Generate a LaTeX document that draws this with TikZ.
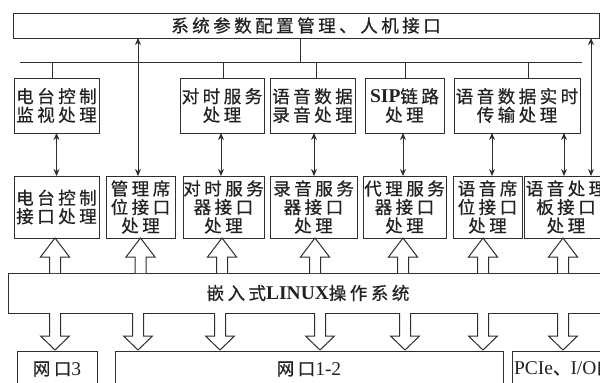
\documentclass[tikz,border=0pt]{standalone}
\usepackage{fontspec}
\setmainfont{Liberation Serif}
\newfontfamily\cjk[LetterSpace=20,FakeBold=0.7]{Noto Sans CJK SC}
\usetikzlibrary{arrows.meta,calc}
\definecolor{ln}{HTML}{2E2E2E}
\definecolor{txt}{HTML}{222222}
\newcommand\lat[1]{{\rmfamily\fontsize{19.5}{19}\selectfont #1}}
\newcommand\latb[1]{{\rmfamily\bfseries\fontsize{19.5}{19}\selectfont #1}}
\begin{document}
\begin{tikzpicture}[x=1pt,y=-1pt,
  every node/.style={inner sep=0pt,outer sep=0pt,text=txt},
  box/.style={draw=ln,line width=1pt,anchor=north west,align=center,
    font=\fontsize{17.5}{18.5}\selectfont\cjk},
  dbl/.style={draw=ln,line width=1pt,{Stealth[length=7pt,width=6pt]}-{Stealth[length=7pt,width=6pt]}},
  wire/.style={draw=ln,line width=1pt},
  hup/.pic={\draw[ln,line width=1pt,fill=white] (-5.5,0) -- (-5.5,-16) -- (-14.5,-16) -- (0,-35) -- (14.5,-16) -- (5.5,-16) -- (5.5,0);},
  hdown/.pic={\draw[ln,line width=1pt,fill=white] (-5.5,0) -- (-5.5,23) -- (-14.5,23) -- (0,37) -- (14.5,23) -- (5.5,23) -- (5.5,0);}
]
\useasboundingbox (0,0) rectangle (600,383);
\clip (0,0) rectangle (600,383);

% top box
\node[box,minimum width=586,minimum height=25] (top) at (13,13) {系统参数配置管理、人机接口};

% bus
\coordinate (busL) at (20,62);
\coordinate (busR) at (582,62);
\foreach \x in {52,138,221,223,300,314,316,403,405,492,528,564,591}
  \coordinate (c\x) at (\x,0);

% top row
\node[box,minimum width=85,minimum height=55] (tb1) at (14,78) {电台控制\\监视处理};
\node[box,minimum width=84,minimum height=55] (tb2) at (180,78) {对时服务\\处理};
\node[box,minimum width=85,minimum height=55] (tb3) at (270,78) {语音数据\\录音处理};
\node[box,minimum width=79,minimum height=55] (tb4) at (365,78) {\latb{SIP}链路\\处理};
\node[box,minimum width=126,minimum height=55] (tb5) at (454,78) {语音数据实时\\传输处理};

% bottom row
\node[box,minimum width=85,minimum height=62] (bb1) at (14,176) {电台控制\\接口处理};
\node[box,minimum width=69,minimum height=62] (bb2) at (106,176) {管理席\\位接口\\处理};
\node[box,minimum width=81,minimum height=62] (bb3) at (183,176) {对时服务\\器接口\\处理};
\node[box,minimum width=87,minimum height=62] (bb4) at (270,176) {录音服务\\器接口\\处理};
\node[box,minimum width=83,minimum height=62] (bb5) at (363,176) {代理服务\\器接口\\处理};
\node[box,minimum width=69,minimum height=62] (bb6) at (453,176) {语音席\\位接口\\处理};
\node[box,minimum width=84,minimum height=62] (bb7) at (524,176) {语音处理\\板接口\\处理};

% OS
\node[box,minimum width=600,minimum height=40] (os) at (8,273) {嵌入式\latb{LINUX}操作系统};

% bottom interfaces
\node[box,minimum width=80,minimum height=36] (bt1) at (17,351) {网口\lat{3}};
\node[box,minimum width=388,minimum height=36] (bt2) at (115,351) {网口\lat{1-2}};
\node[box,minimum width=200,minimum height=36] (bt3) at (512,351) {};
\node[anchor=west,font=\fontsize{17.5}{18.5}\selectfont\cjk] (bt3t) at ([xshift=2pt,yshift=-17.5pt]bt3.north west) {\lat{PCIe}、\lat{I/O}口};

% bus wiring
\draw[wire] (busL) -- (busR);
\draw[wire] (top.south -| c300) -- (busL -| c300);
\draw[wire] (busL -| c52) -- (tb1.north -| c52);
\draw[wire] (busL -| c223) -- (tb2.north -| c223);
\draw[wire] (busL -| c316) -- (tb3.north -| c316);
\draw[wire] (busL -| c405) -- (tb4.north -| c405);
\draw[wire] (busL -| c528) -- (tb5.north -| c528);

% long arrows
\draw[dbl] (top.south -| c138) -- (bb2.north -| c138);
\draw[dbl] (top.south -| c591) -- (bb7.north -| c591);

% vertical double arrows
\draw[dbl] (tb1.south) -- (bb1.north);
\draw[dbl] (tb2.south -| c221) -- (bb3.north -| c221);
\draw[dbl] (tb3.south -| c314) -- (bb4.north -| c314);
\draw[dbl] (tb4.south -| c403) -- (bb5.north -| c403);
\draw[dbl] (tb5.south -| c492) -- (bb6.north -| c492);
\draw[dbl] (tb5.south -| c564) -- (bb7.north -| c564);

% hollow arrows up
\pic at ([xshift=-1.5pt]bb1.south |- os.north) {hup};
\pic at (bb2.south |- os.north) {hup};
\pic at ([xshift=-1.5pt]bb3.south |- os.north) {hup};
\pic at ([xshift=1.5pt]bb4.south |- os.north) {hup};
\pic at ([xshift=-1.5pt]bb5.south |- os.north) {hup};
\pic at ([xshift=-4.5pt]bb6.south |- os.north) {hup};
\pic at ([xshift=-3pt]bb7.south |- os.north) {hup};

% hollow arrows down
\pic at ([xshift=-2pt]bt1.north |- os.south) {hdown};
\foreach \dx in {-171,-89,11,96,174}
  \pic at ([xshift=\dx pt]bt2.north |- os.south) {hdown};
\pic at ([xshift=51pt]bt3.north west |- os.south) {hdown};
\end{tikzpicture}
\end{document}
